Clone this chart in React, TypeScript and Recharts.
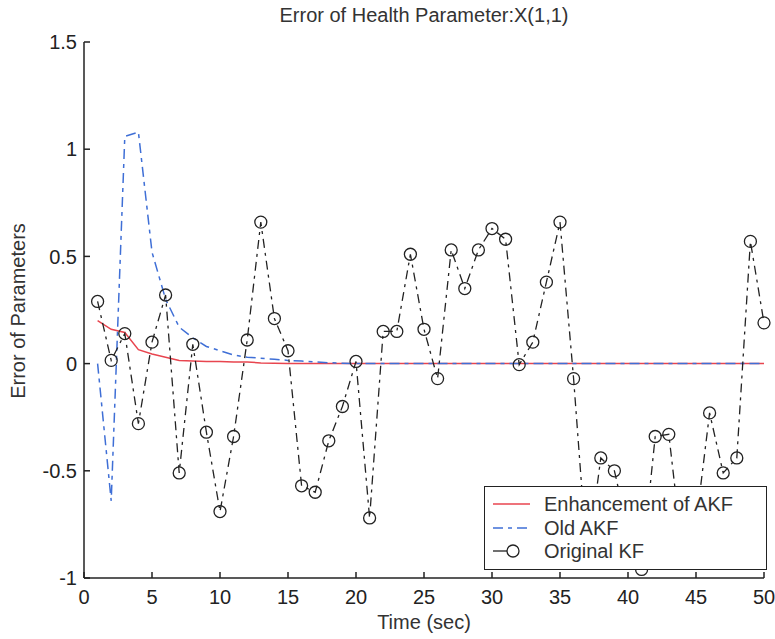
import { LineChart, Line, XAxis, YAxis } from 'recharts';

const time = [
  1, 2, 3, 4, 5, 6, 7, 8, 9, 10,
  11, 12, 13, 14, 15, 16, 17, 18, 19, 20,
  21, 22, 23, 24, 25, 26, 27, 28, 29, 30,
  31, 32, 33, 34, 35, 36, 37, 38, 39, 40,
  41, 42, 43, 44, 45, 46, 47, 48, 49, 50,
];

const enhancedAKF = [
  0.2, 0.16, 0.145, 0.065, 0.045, 0.03, 0.015, 0.012, 0.01, 0.01,
  0.008, 0.008, 0.003, 0.002, 0.001, 0, 0, 0, 0, 0,
  0, 0, 0, 0, 0, 0, 0, 0, 0, 0,
  0, 0, 0, 0, 0, 0, 0, 0, 0, 0,
  0, 0, 0, 0, 0, 0, 0, 0, 0, 0,
];

const oldAKF = [
  0.0, -0.64, 1.06, 1.08, 0.52, 0.3, 0.17, 0.12, 0.08, 0.06,
  0.04, 0.03, 0.025, 0.02, 0.015, 0.012, 0.008, 0.004, 0.002, 0,
  0, 0, 0, 0, 0, 0, 0, 0, 0, 0,
  0, 0, 0, 0, 0, 0, 0, 0, 0, 0,
  0, 0, 0, 0, 0, 0, 0, 0, 0, 0,
];

const originalKF = [
  0.29, 0.015, 0.14, -0.28, 0.1, 0.32, -0.51, 0.09, -0.32, -0.69,
  -0.34, 0.11, 0.66, 0.21, 0.06, -0.57, -0.6, -0.36, -0.2, 0.01,
  -0.72, 0.15, 0.15, 0.51, 0.16, -0.07, 0.53, 0.35, 0.53, 0.63,
  0.58, -0.005, 0.1, 0.38, 0.66, -0.07, -0.92, -0.44, -0.5, -0.78,
  -0.96, -0.34, -0.33, -0.88, -0.75, -0.23, -0.51, -0.44, 0.57, 0.19,
];

const xTicks = [0, 5, 10, 15, 20, 25, 30, 35, 40, 45, 50];
const yTicks = [-1, -0.5, 0, 0.5, 1, 1.5];

const data = time.map((t, i) => ({
  t,
  enhanced: enhancedAKF[i],
  old: oldAKF[i],
  original: originalKF[i],
}));

const FONT = '"Liberation Sans", Arial, Helvetica, sans-serif';
const RED = '#e8454f';
const BLUE = '#3f6fd6';
const INK = '#222';

function LegendBox() {
  return (
    <div
      style={{
        position: 'absolute',
        left: 484,
        top: 486,
        width: 283,
        height: 84,
        boxSizing: 'border-box',
        border: `1.5px solid ${INK}`,
        background: '#fff',
      }}
    >
      <svg width={281} height={81} style={{ display: 'block' }}>
        <line x1={8} x2={45} y1={17} y2={17} stroke={RED} strokeWidth={1.5} />
        <line x1={8} x2={45} y1={41} y2={41} stroke={BLUE} strokeWidth={1.5} strokeDasharray="10 5 4 5" />
        <line x1={8} x2={22} y1={64} y2={64} stroke={INK} strokeWidth={1.3} />
        <circle cx={28} cy={64} r={6} fill="none" stroke={INK} strokeWidth={1.3} />
        <g fontFamily={FONT} fontSize={20} fill="#333">
          <text x={59} y={24}>Enhancement of AKF</text>
          <text x={59} y={48}>Old AKF</text>
          <text x={59} y={71}>Original KF</text>
        </g>
      </svg>
    </div>
  );
}

export default function App() {
  const tickStyle = { fontSize: 20, fill: INK, fontFamily: FONT };
  return (
    <div style={{ position: 'absolute', left: 0, top: 0, width: 775, height: 639, background: '#fff', fontFamily: FONT }}>
      <div
        style={{
          position: 'absolute',
          left: 84,
          width: 680,
          top: 4,
          textAlign: 'center',
          fontSize: 20,
          color: '#333',
        }}
      >
        Error of Health Parameter:X(1,1)
      </div>
      <div
        style={{
          position: 'absolute',
          left: 84,
          width: 680,
          top: 611,
          textAlign: 'center',
          fontSize: 20,
          color: '#333',
        }}
      >
        Time (sec)
      </div>
      <div
        style={{
          position: 'absolute',
          left: 18,
          top: 311,
          transform: 'translate(-50%, -50%) rotate(-90deg)',
          whiteSpace: 'nowrap',
          fontSize: 20,
          color: '#333',
        }}
      >
        Error of Parameters
      </div>
      <LineChart
        width={775}
        height={639}
        data={data}
        margin={{ top: 42, right: 11, bottom: 21, left: 24 }}
      >
        <XAxis
          dataKey="t"
          type="number"
          domain={[0, 50]}
          ticks={xTicks}
          tickSize={-6}
          tickMargin={18}
          height={40}
          stroke={INK}
          strokeWidth={1.5}
          tick={tickStyle}
          interval={0}
        />
        <YAxis
          type="number"
          domain={[-1, 1.5]}
          ticks={yTicks}
          tickSize={-6}
          tickMargin={13}
          width={60}
          stroke={INK}
          strokeWidth={1.5}
          tick={tickStyle}
          interval={0}
        />
        <Line
          dataKey="enhanced"
          type="linear"
          stroke={RED}
          strokeWidth={1.5}
          dot={false}
          isAnimationActive={false}
        />
        <Line
          dataKey="old"
          type="linear"
          stroke={BLUE}
          strokeWidth={1.5}
          strokeDasharray="10 5 4 5"
          dot={false}
          isAnimationActive={false}
        />
        <Line
          dataKey="original"
          type="linear"
          stroke={INK}
          strokeWidth={1.3}
          strokeDasharray="9 5 3 5"
          dot={{ r: 6, fill: 'none', stroke: INK, strokeWidth: 1.3, strokeDasharray: '0' }}
          isAnimationActive={false}
        />
      </LineChart>
      <LegendBox />
    </div>
  );
}
